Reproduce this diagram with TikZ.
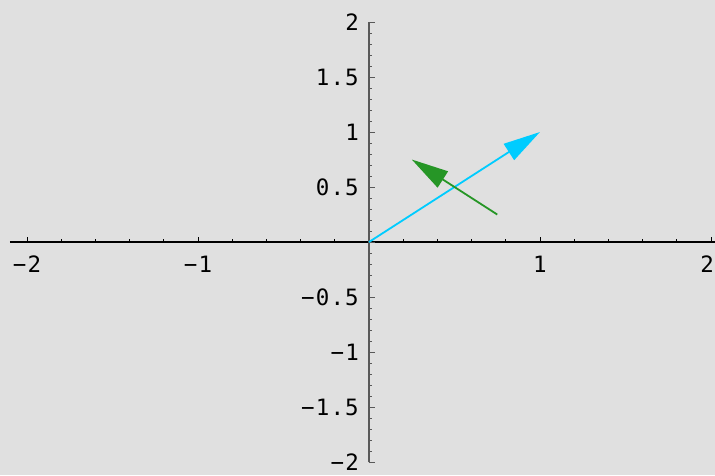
\documentclass[tikz,border=0pt]{standalone}
\usepackage{fontspec}
\newfontfamily\tickfont[LetterSpace=5]{DejaVu Sans Mono}
\usetikzlibrary{arrows.meta}
\definecolor{plotbg}{RGB}{224,224,224}
\definecolor{vecblue}{RGB}{0,204,255}
\definecolor{vecgreen}{RGB}{38,150,38}
\tikzset{
    axis/.style={draw, line width=1.1pt},
    tickmark/.style={draw, line width=0.8pt},
    ticklabel/.style={inner sep=0pt, font=\tickfont\fontsize{22.5}{23}\selectfont},
    vec/.style={line width=1.8pt, -{Triangle[length=37pt, width=19pt]}}
}
\begin{document}
\begin{tikzpicture}[x=171pt, y=110pt]
    % background
    \path[use as bounding box, fill=plotbg] (-369pt,-233pt) rectangle (346pt,242pt);

    % axes
    \draw[axis] (-2.1,0) -- (2.1,0);
    \draw[axis, black!65] (0,-2) -- (0,2);

    % ticks
    \foreach \k in {-10,...,-1,1,2,...,10}
        \draw[tickmark] (\k/5,0) -- ++(0,3pt);
    \foreach \k in {-2,-1,1,2}
        \draw[tickmark] (\k,0) -- ++(0,5pt);
    \foreach \k in {-20,...,20}
        \draw[tickmark, black!65] (0,\k/10) -- ++(3pt,0);
    \foreach \k in {-4,...,4}
        \draw[tickmark, black!65] (0,\k/2) -- ++(6pt,0);

    % labels
    \foreach \v/\t [count=\i] in {-2/−2,-1/−1,1/1}
        \node[ticklabel] (xlab\i) at (\v,-0.2) {\t};
    \node[ticklabel, anchor=east] (xlab4) at ([xshift=-1pt]346pt,-22pt) {2};
    \foreach \v/\t [count=\i] in {-2/−2,-1.5/−1.5,-1/−1,-0.5/−0.5,0.5/0.5,1/1,1.5/1.5,2/2}
        \node[ticklabel, anchor=east] (ylab\i) at ([xshift=-10pt]0,\v) {\t};

    % vectors
    \coordinate (O) at (0,0);
    \coordinate (P) at (1,1);
    \coordinate (Q) at (0.75,0.25);
    \coordinate (R) at (0.25,0.75);
    \draw[vec, vecblue] (O) -- (P);
    \draw[vec, vecgreen] (Q) -- (R);
\end{tikzpicture}
\end{document}
